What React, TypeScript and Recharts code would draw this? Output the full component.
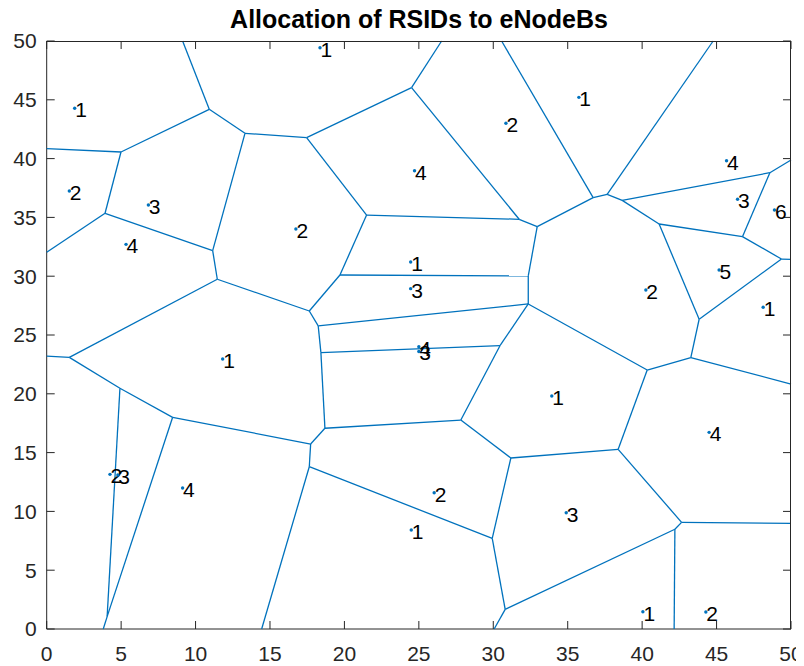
import React from 'react';
import { ScatterChart, Scatter, XAxis, YAxis } from 'recharts';

// eNodeB sites and their RSID
const siteX = [18.36, 1.88, 1.52, 6.83, 5.33, 16.74, 35.75, 30.85, 24.71, 45.67, 46.41, 48.89, 24.45, 24.45, 45.17, 40.25, 48.13, 11.82, 4.25, 4.78, 9.13, 25.0, 25.0, 33.93, 44.5, 26.03, 34.9, 24.49, 40.05, 44.28];
const siteY = [49.43, 44.28, 37.24, 36.05, 32.71, 34.01, 45.21, 43.0, 38.97, 39.82, 36.54, 35.63, 31.21, 28.94, 30.53, 28.83, 27.36, 22.96, 13.15, 13.1, 11.99, 24.0, 23.6, 19.81, 16.72, 11.59, 9.89, 8.42, 1.47, 1.45];
const siteRsid = ['1', '1', '2', '3', '4', '2', '1', '2', '4', '4', '3', '6', '1', '3', '5', '2', '1', '1', '2', '3', '4', '4', '3', '1', '4', '2', '3', '1', '1', '2'];

const ticks = [0, 5, 10, 15, 20, 25, 30, 35, 40, 45, 50];

// voronoi edges: x1, y1, x2, y2
const edges = [
  [9.13, 50, 10.92, 44.19],
  [10.92, 44.19, 13.32, 42.15],
  [13.32, 42.15, 17.46, 41.78],
  [10.92, 44.19, 4.99, 40.56],
  [4.99, 40.56, 0, 40.84],
  [4.99, 40.56, 3.92, 35.35],
  [3.92, 35.35, 0, 32.03],
  [3.92, 35.35, 11.15, 32.17],
  [11.15, 32.17, 13.32, 42.15],
  [11.15, 32.17, 11.46, 29.74],
  [11.46, 29.74, 17.64, 27.04],
  [11.46, 29.74, 1.52, 23.1],
  [17.46, 41.78, 21.49, 35.2],
  [17.46, 41.78, 24.51, 46.03],
  [21.49, 35.2, 19.7, 30.1],
  [19.7, 30.1, 17.64, 27.04],
  [17.64, 27.04, 18.24, 25.77],
  [18.24, 25.77, 18.42, 23.5],
  [18.42, 23.5, 18.69, 17.07],
  [18.69, 17.07, 17.73, 15.73],
  [17.73, 15.73, 17.64, 13.8],
  [17.64, 13.8, 14.44, 0],
  [17.64, 13.8, 29.93, 7.71],
  [17.73, 15.73, 8.46, 18.0],
  [8.46, 18.0, 4.92, 20.47],
  [4.92, 20.47, 1.52, 23.1],
  [1.52, 23.1, 0, 23.21],
  [4.92, 20.47, 4.06, 1.05],
  [8.46, 18.0, 4.06, 1.05],
  [4.06, 1.05, 3.8, 0],
  [24.51, 46.03, 26.53, 50],
  [24.51, 46.03, 31.74, 34.84],
  [21.49, 35.2, 31.74, 34.84],
  [31.74, 34.84, 32.95, 34.21],
  [30.56, 50, 36.71, 36.68],
  [32.95, 34.21, 36.71, 36.68],
  [36.71, 36.68, 37.65, 36.96],
  [37.65, 36.96, 44.77, 50],
  [37.65, 36.96, 38.66, 36.45],
  [38.66, 36.45, 48.58, 38.8],
  [48.58, 38.8, 50, 39.88],
  [38.66, 36.45, 41.14, 34.44],
  [41.14, 34.44, 46.74, 33.36],
  [48.58, 38.8, 46.74, 33.36],
  [46.74, 33.36, 49.36, 31.46],
  [49.36, 31.46, 50, 31.43],
  [41.14, 34.44, 43.83, 26.34],
  [43.83, 26.34, 49.36, 31.46],
  [43.83, 26.34, 43.27, 23.07],
  [43.27, 23.07, 50, 20.83],
  [43.27, 23.07, 40.34, 22.02],
  [32.95, 34.21, 32.35, 30.02],
  [32.35, 30.02, 32.35, 27.64],
  [19.7, 30.1, 32.35, 30.02],
  [18.24, 25.77, 32.35, 27.64],
  [32.35, 27.64, 40.34, 22.02],
  [32.35, 27.64, 30.45, 24.09],
  [18.42, 23.5, 30.45, 24.09],
  [30.45, 24.09, 27.82, 17.77],
  [18.69, 17.07, 27.82, 17.77],
  [27.82, 17.77, 31.18, 14.54],
  [31.18, 14.54, 38.39, 15.28],
  [40.34, 22.02, 38.39, 15.28],
  [38.39, 15.28, 42.65, 9.07],
  [42.65, 9.07, 50, 8.99],
  [42.65, 9.07, 42.2, 8.48],
  [42.2, 8.48, 42.15, 0],
  [42.2, 8.48, 30.8, 1.67],
  [30.8, 1.67, 30.06, 0],
  [30.8, 1.67, 29.93, 7.71],
  [29.93, 7.71, 31.18, 14.54],
];

const sites = siteX.map((x, i) => ({ x, y: siteY[i], rsid: siteRsid[i] }));
const segments = edges.map(([x1, y1, x2, y2]) => [
  { x: x1, y: y1 },
  { x: x2, y: y2 },
]);

// tick positions along each side of the box
const topTicks = ticks.map((t) => ({ x: t, y: 50 }));
const bottomTicks = ticks.map((t) => ({ x: t, y: 0 }));
const leftTicks = ticks.map((t) => ({ x: 0, y: t }));
const rightTicks = ticks.map((t) => ({ x: 50, y: t }));

const font = '"Liberation Sans", Arial, Helvetica, sans-serif';
const axisColor = '#262626';
const lineColor = '#0072BD';
const TICK_LEN = 8;

// plot box, page pixels inside the wrapper
const PLOT = { left: 38.7, top: 33, width: 744.3, height: 588 };

const SiteDot = (props: any) => {
  const { cx, cy } = props;
  const rsid = props.payload ? props.payload.rsid : props.rsid;
  return (
    <g>
      <circle cx={cx} cy={cy} r={1.7} fill={lineColor} />
      <text x={cx + 0.5} y={cy + 9} style={{ fontSize: 21, fontFamily: font, fill: '#000' }}>
        {rsid}
      </text>
    </g>
  );
};

const tickShape = (dx: number, dy: number) => (props: any) => (
  <line
    x1={props.cx}
    y1={props.cy}
    x2={props.cx + dx * TICK_LEN}
    y2={props.cy + dy * TICK_LEN}
    stroke={axisColor}
    strokeWidth={1}
  />
);

const Empty = () => <g />;

export default function App() {
  return (
    <div style={{ position: 'relative', width: 796, height: 658 }}>
      <div
        style={{
          position: 'absolute',
          left: 0,
          width: 822,
          top: -2.5,
          textAlign: 'center',
          fontFamily: font,
          fontWeight: 'bold',
          fontSize: 25,
          lineHeight: '26px',
          color: '#000',
        }}
      >
        Allocation of RSIDs to eNodeBs
      </div>
      <ScatterChart width={796} height={658} margin={{ top: 33, right: 13, bottom: 0, left: 0 }}>
        <XAxis
          type="number"
          dataKey="x"
          domain={[0, 50]}
          ticks={ticks}
          interval={0}
          height={37}
          tickLine={false}
          tickSize={0}
          tickMargin={17.5}
          stroke={axisColor}
          tick={{ fill: axisColor, fontSize: 21, fontFamily: font }}
        />
        <YAxis
          type="number"
          dataKey="y"
          domain={[0, 50]}
          ticks={ticks}
          interval={0}
          width={38.7}
          tickLine={false}
          tickSize={0}
          tickMargin={10}
          stroke={axisColor}
          tick={{ fill: axisColor, fontSize: 21, fontFamily: font }}
        />
        <Scatter data={topTicks} shape={tickShape(0, 1)} isAnimationActive={false} />
        <Scatter data={bottomTicks} shape={tickShape(0, -1)} isAnimationActive={false} />
        <Scatter data={leftTicks} shape={tickShape(1, 0)} isAnimationActive={false} />
        <Scatter data={rightTicks} shape={tickShape(-1, 0)} isAnimationActive={false} />
        {segments.map((seg, i) => (
          <Scatter
            key={`edge-${i}`}
            data={seg}
            line={{ stroke: lineColor, strokeWidth: 1.3 }}
            shape={Empty}
            isAnimationActive={false}
          />
        ))}
        <Scatter data={sites} shape={SiteDot} isAnimationActive={false} />
      </ScatterChart>
      {/* top and right edges of the axes box */}
      <div
        style={{
          position: 'absolute',
          left: PLOT.left,
          top: PLOT.top - 0.5,
          width: PLOT.width + 0.5,
          height: PLOT.height,
          borderTop: `1px solid ${axisColor}`,
          borderRight: `1px solid ${axisColor}`,
          boxSizing: 'border-box',
          pointerEvents: 'none',
        }}
      />
    </div>
  );
}
